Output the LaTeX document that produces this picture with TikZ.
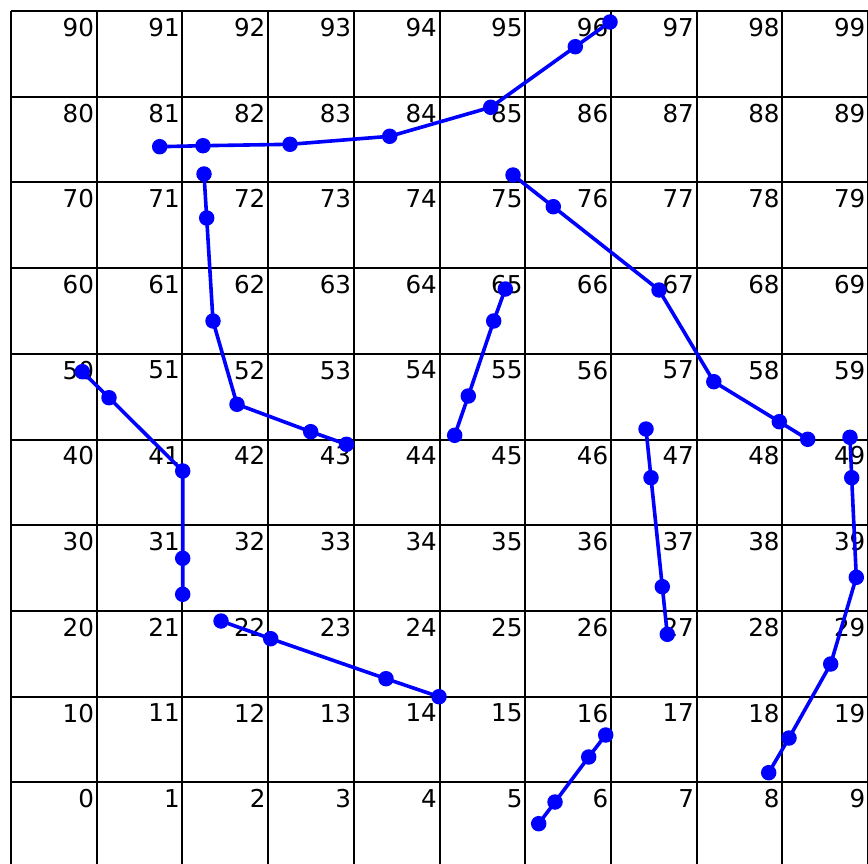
\documentclass[tikz,border=0pt]{standalone}
\usepackage{fontspec}
\setmainfont{DejaVu Sans}
\begin{document}
\begin{tikzpicture}[x=1pt,y=-1pt,
  gridline/.style={draw=black,line width=2pt},
  lbl/.style={anchor=north east,inner sep=0pt,font=\fontsize{24.6pt}{26pt}\selectfont},
  route/.style={draw=blue,line width=3.6pt},
  dot/.style={circle,fill=blue,inner sep=0pt,minimum size=15.5pt}]
\useasboundingbox (0,0) rectangle (868,864);
\clip (0,0) rectangle (868,864);
\fill[white] (0,0) rectangle (868,864);
% grid
\foreach \i in {0,...,10} \draw[gridline] ({11+\i*85.7},11) -- ({11+\i*85.7},870);
\foreach \j in {0,...,9} \draw[gridline] (11,{11+\j*85.7}) -- (872,{11+\j*85.7});
% labels
\foreach \r in {0,...,9} {
  \foreach \c in {0,...,9} {
    \pgfmathtruncatemacro\n{10*\r+\c}
    \node[lbl] (n\n) at ({11+(\c+1)*85.7-2.5},{11+(9-\r)*85.7+7}) {\n};
  }
}
% route coordinates
\foreach \x/\y [count=\k] in {159.7/146.7,203/145.7,290/144.3,389.7/136.3,490.7/107.3,575.3/46.7,610/22} \coordinate (A\k) at (\x,\y);
\foreach \x/\y [count=\k] in {204/174,206.7/218,213/321,237/404.3,310.7/431.7,346.5/444.3} \coordinate (B\k) at (\x,\y);
\foreach \x/\y [count=\k] in {82.3/371.7,109/397.7,182.7/471,182.7/558.3,182.7/594.3} \coordinate (C\k) at (\x,\y);
\foreach \x/\y [count=\k] in {221/621,270.7/638.7,386/678.7,439/696.7} \coordinate (D\k) at (\x,\y);
\foreach \x/\y [count=\k] in {505.3/289,493.7/321,468.3/396,454.7/435.3} \coordinate (E\k) at (\x,\y);
\foreach \x/\y [count=\k] in {513/175,553.3/206.7,659/290,713.8/381.7,779.3/421.7,807.7/439.3} \coordinate (F\k) at (\x,\y);
\foreach \x/\y [count=\k] in {646/429,651/477.7,662.3/586.7,667.3/634.3} \coordinate (G\k) at (\x,\y);
\foreach \x/\y [count=\k] in {850/437.3,851.7/477.7,856.3/577.3,830.7/664,789/738,768.7/772.7} \coordinate (H\k) at (\x,\y);
\foreach \x/\y [count=\k] in {605.7/735,588.7/757,555/802,538.7/823.7} \coordinate (I\k) at (\x,\y);
% routes
\draw[route] (A1) -- (A2) -- (A3) -- (A4) -- (A5) -- (A6) -- (A7);
\draw[route] (B1) -- (B2) -- (B3) -- (B4) -- (B5) -- (B6);
\draw[route] (C1) -- (C2) -- (C3) -- (C4) -- (C5);
\draw[route] (D1) -- (D2) -- (D3) -- (D4);
\draw[route] (E1) -- (E2) -- (E3) -- (E4);
\draw[route] (F1) -- (F2) -- (F3) -- (F4) -- (F5) -- (F6);
\draw[route] (G1) -- (G2) -- (G3) -- (G4);
\draw[route] (H1) -- (H2) -- (H3) -- (H4) -- (H5) -- (H6);
\draw[route] (I1) -- (I2) -- (I3) -- (I4);
% dots
\foreach \a/\m in {A/7,B/6,C/5,D/4,E/4,F/6,G/4,H/6,I/4} {
  \foreach \k in {1,...,\m} \node[dot] (d\a\k) at (\a\k) {};
}
\end{tikzpicture}
\end{document}
